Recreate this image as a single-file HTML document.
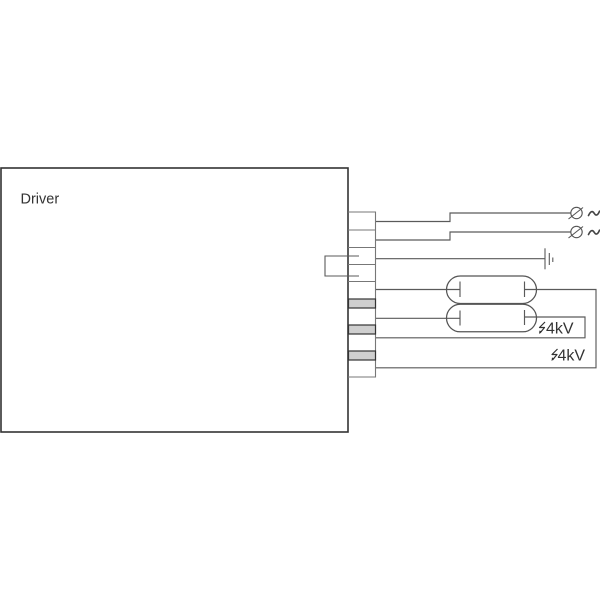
<!DOCTYPE html>
<html>
<head>
<meta charset="utf-8">
<style>
  html, body { margin: 0; padding: 0; background: #fff; }
  svg { display: block; }
  text { font-family: "Liberation Sans", sans-serif; fill: #333; }
</style>
</head>
<body>
<svg width="600" height="600" viewBox="0 0 600 600" xmlns="http://www.w3.org/2000/svg">
  <!-- Driver box -->
  <rect x="1" y="168" width="347" height="264" fill="none" stroke="#333" stroke-width="1.6"/>
  <text x="20.5" y="203.5" font-size="14.5">Driver</text>

  <!-- Terminal block -->
  <g stroke="#777" stroke-width="1.1" fill="none">
    <polyline points="348,212 375.5,212 375.5,377 348,377"/>
    <line x1="348" y1="230" x2="375.5" y2="230"/>
    <line x1="348" y1="247.5" x2="375.5" y2="247.5"/>
    <line x1="348" y1="264.5" x2="375.5" y2="264.5"/>
    <line x1="348" y1="281.5" x2="375.5" y2="281.5"/>
  </g>
  <g fill="#cfcfcf" stroke="#333" stroke-width="1.2">
    <rect x="348.5" y="299" width="27" height="9"/>
    <rect x="348.5" y="325" width="27" height="9"/>
    <rect x="348.5" y="351" width="27" height="9"/>
  </g>

  <!-- Loop on the left of the terminal -->
  <polyline points="359,256 325,256 325,276 359,276" fill="none" stroke="#5a5a5a" stroke-width="1.1"/>

  <!-- Wires -->
  <g stroke="#5a5a5a" stroke-width="1.15" fill="none">
    <polyline points="376,221.5 450,221.5 450,213 570.5,213"/>
    <polyline points="376,240 450,240 450,232 570.5,232"/>
    <line x1="376" y1="258.7" x2="545" y2="258.7"/>
    <line x1="376" y1="289.5" x2="460" y2="289.5"/>
    <polyline points="524.5,289.5 596,289.5 596,367.8 376,367.8"/>
    <line x1="376" y1="318.3" x2="460" y2="318.3"/>
    <polyline points="524.5,317 585,317 585,337.8 376,337.8"/>
  </g>

  <!-- Electrodes -->
  <g stroke="#5a5a5a" stroke-width="1.15">
    <line x1="460" y1="281.5" x2="460" y2="297"/>
    <line x1="524.5" y1="281.5" x2="524.5" y2="297"/>
    <line x1="460" y1="310.5" x2="460" y2="325.5"/>
    <line x1="524.5" y1="310" x2="524.5" y2="325"/>
  </g>

  <!-- Lamps -->
  <g fill="none" stroke="#555" stroke-width="1.25">
    <rect x="446.5" y="276" width="90" height="27.5" rx="13.75" ry="13.75"/>
    <rect x="446.5" y="304.3" width="90" height="27.5" rx="13.75" ry="13.75"/>
  </g>

  <!-- Mains connectors -->
  <g fill="none" stroke="#555" stroke-width="1.1">
    <circle cx="576.5" cy="213" r="5.7"/>
    <line x1="568.5" y1="219" x2="583" y2="207.5"/>
    <circle cx="576.5" cy="232" r="5.7"/>
    <line x1="568.5" y1="238" x2="583" y2="226.5"/>
  </g>
  <g fill="none" stroke="#444" stroke-width="1.6" stroke-linecap="round">
    <path d="M588.5,215.5 Q591.5,209 594.2,213.3 T599.5,211.2"/>
    <path d="M588.5,234.5 Q591.5,228 594.2,232.3 T599.5,230.2"/>
  </g>

  <!-- Ground -->
  <g stroke="#5a5a5a" stroke-width="1.1">
    <line x1="545" y1="248.3" x2="545" y2="269.3"/>
    <line x1="549.3" y1="253" x2="549.3" y2="265"/>
    <line x1="552.8" y1="257.5" x2="552.8" y2="262"/>
  </g>

  <!-- 4kV labels -->
  <g fill="none" stroke="#333" stroke-width="1.2" stroke-linejoin="round">
    <polyline points="545,322 539.5,327.5 544.5,327.5 540,333"/>
    <polyline points="557.5,349 552,354.5 557,354.5 552.5,360"/>
  </g>
  <g fill="#333">
    <polygon points="539,334 539.5,330.5 542,331.5"/>
    <polygon points="551.5,361 552,357.5 554.5,358.5"/>
  </g>
  <text x="546" y="333.5" font-size="16">4kV</text>
  <text x="557.5" y="360.5" font-size="16">4kV</text>
</svg>
</body>
</html>
